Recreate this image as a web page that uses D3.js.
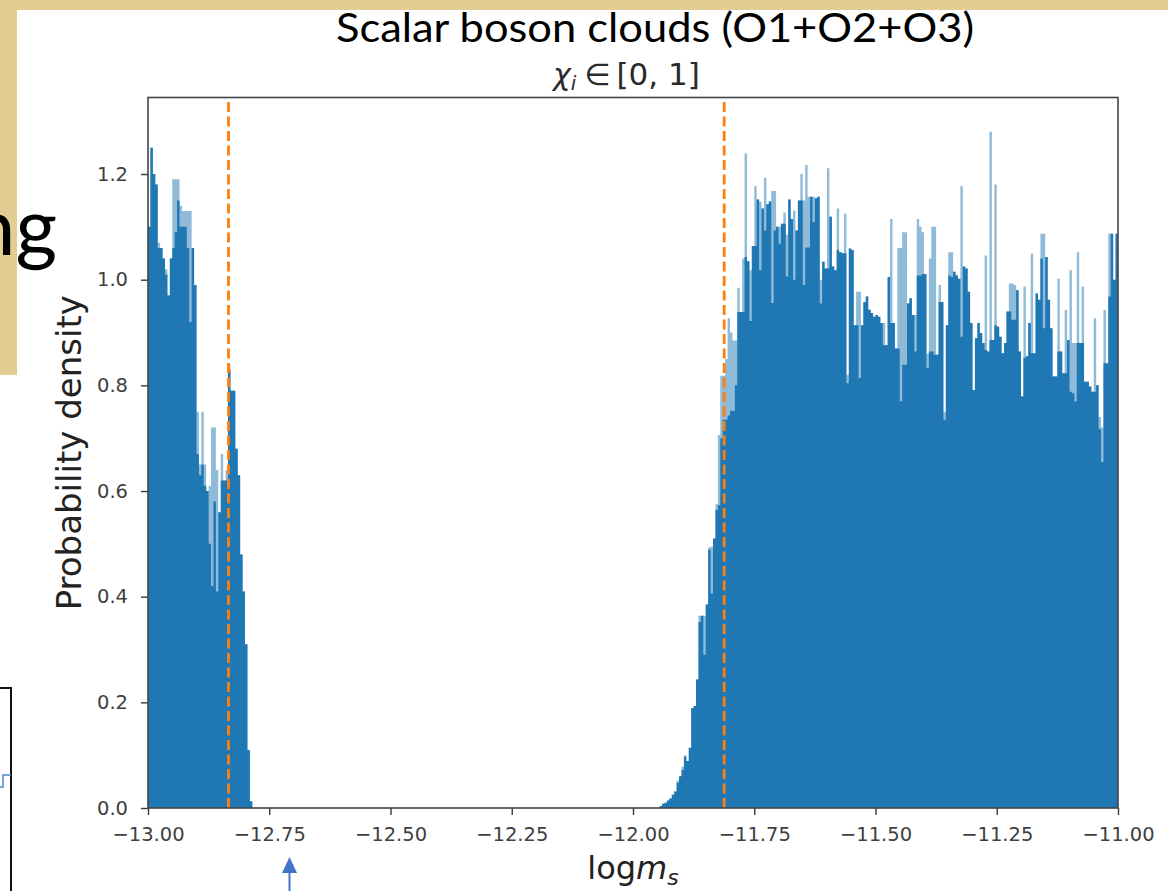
<!DOCTYPE html>
<html>
<head>
<meta charset="utf-8">
<script src="https://cdn.jsdelivr.net/npm/d3@7"></script>
<style>
  html, body { margin: 0; padding: 0; background: #fff; }
  svg { display: block; }
  .axis .tick text { font-family: "DejaVu Sans", sans-serif; font-size: 19.5px; fill: #404040; }
  .axis .tick line { stroke: #3a3a3a; stroke-width: 1.4; }
  .axis .domain { display: none; }
</style>
</head>
<body>
<svg id="chart" width="1168" height="891"></svg>
<script>
// histogram bins (width 0.005 in log m_s), dark = solid level, light = thin spike top (0 = none)
const binWidth = 0.005;

const leftStart = -13.0;
const leftDark = [
  1.10, 1.25, 1.20, 1.18, 1.06, 1.06, 1.04, 1.01, 0.97, 1.04,
  1.06, 1.09, 1.15, 1.10, 1.10, 1.10, 1.06, 0.92, 1.06, 0.99,
  0.67, 0.63, 0.65, 0.61, 0.60, 0.50, 0.42, 0.58, 0.41, 0.56,
  0.62, 0.62, 0.62, 0.83, 0.79, 0.79, 0.68, 0.63, 0.48, 0.41,
  0.31, 0.11, 0.013
];
const leftLight = [
  0, 0, 0, 0, 1.07, 0, 0, 1.02, 0, 0,
  1.19, 1.19, 1.19, 1.14, 1.13, 1.13, 1.13, 1.13, 0, 0,
  0.75, 0.65, 0.75, 0.65, 0, 0.61, 0.72, 0.72, 0.64, 0,
  0.67, 0, 0.64, 0.84, 0, 0, 0, 0, 0, 0,
  0, 0, 0
];

const rightStart = -11.945;
const rightDark = [
  0.004, 0.008, 0.01, 0.014, 0.018, 0.025, 0.031, 0.048, 0.06, 0.072,
  0.097, 0.089, 0.114, 0.189, 0.193, 0.243, 0.352, 0.364, 0.29, 0.385,
  0.489, 0.406, 0.51, 0.564, 0.573, 0.70, 0.735, 0.735, 0.743, 0.752,
  0.752, 0.80, 0.939, 0.939, 0.939, 1.043, 1.035, 0.922, 1.064, 1.064,
  1.152, 1.018, 1.135, 1.093, 1.143, 1.148, 0.956, 1.093, 1.10, 1.068,
  1.106, 1.106, 1.006, 1.152, 1.115, 1.00, 1.093, 1.15, 1.15, 0.99,
  1.061, 1.061, 1.157, 1.109, 1.154, 1.157, 0.955, 1.034, 1.021, 1.021,
  1.119, 1.025, 1.018, 1.056, 1.052, 1.05, 1.05, 0.804, 1.059, 1.056,
  0.914, 0.914, 0.814, 0.914, 0.958, 0.968, 0.943, 0.937, 0.93, 0.933,
  0.93, 0.918, 0.876, 0.876, 1.005, 0.918, 0.918, 0.87, 0.87, 0.77,
  0.839, 0.839, 0.955, 0.965, 0.933, 0.864, 1.008, 1.008, 1.011, 1.011,
  0.833, 0.864, 0.864, 0.858, 0.858, 0.958, 0.958, 0.735, 0.914, 1.008,
  1.005, 1.015, 1.008, 1.002, 0.892, 1.025, 1.021, 0.977, 0.918, 0.791,
  0.889, 0.918, 0.899, 0.88, 0.867, 0.864, 0.886, 0.886, 0.914, 0.911,
  0.892, 0.861, 0.88, 0.94, 0.94, 0.924, 0.924, 0.98, 0.864, 0.779,
  0.852, 0.855, 0.918, 0.861, 0.861, 0.974, 0.962, 1.04, 0.908, 1.043,
  0.962, 0.908, 0.817, 0.817, 0.864, 0.864, 0.823, 0.823, 0.886, 0.788,
  0.785, 0.77, 0.88, 0.88, 0.88, 0.807, 0.807, 0.798, 0.788, 0.788,
  0.80, 0.717, 0.655, 0.842, 0.842, 0.968, 1.087, 1.0, 1.087
];
const rightLight = [
  0, 0, 0, 0, 0, 0, 0, 0.052, 0, 0.078,
  0.10, 0, 0, 0, 0, 0, 0.364, 0, 0.364, 0,
  0.493, 0.495, 0, 0.575, 0.706, 0.818, 0.818, 0.85, 0.927, 0.90,
  0.885, 0.885, 0.985, 0, 1.04, 1.239, 0, 1.018, 0, 1.177,
  0, 1.148, 0, 1.193, 0, 0, 1.168, 1.168, 0, 1.10,
  0, 1.127, 1.085, 0, 0, 1.131, 0, 0, 1.20, 1.15,
  1.217, 1.157, 0, 1.157, 0, 0, 1.0, 0, 0, 1.211,
  0, 0, 0, 1.135, 0, 0, 1.125, 0.82, 0, 0,
  0, 0.977, 0.977, 0, 0, 0, 0, 0, 0, 0,
  0, 0, 0.918, 0, 0, 1.115, 0, 0, 1.06, 1.06,
  1.09, 1.09, 0, 0, 0, 0.933, 1.115, 1.10, 1.09, 0,
  0.86, 1.04, 1.10, 1.10, 0, 0.99, 0, 0.75, 0, 1.052,
  1.052, 0, 0, 0, 1.177, 0, 0, 0, 0, 0,
  0, 0, 0, 0, 1.046, 0, 1.28, 0, 1.18, 0,
  0, 0, 0, 0, 0.993, 0.993, 0.99, 0, 0, 0,
  0.987, 0, 0, 1.049, 0, 0, 0, 1.087, 1.087, 0,
  0, 0, 0, 0, 1.002, 0, 0, 0.943, 0, 1.018,
  0.88, 0.88, 1.052, 0, 0.987, 0, 0, 0, 0, 0.927,
  0, 0.74, 0.72, 0.943, 0, 1.087, 0, 0, 0
];

const markers = [-12.834, -11.812];
const xTicks = [-13, -12.75, -12.5, -12.25, -12, -11.75, -11.5, -11.25, -11];
const yTicks = [0, 0.2, 0.4, 0.6, 0.8, 1.0, 1.2];

const frame = { left: 148, right: 1118, top: 97.5, bottom: 808 };
const blue = "#1f77b4";

const svg = d3.select("#chart");

// slide background bits around the pasted plot
svg.append("rect").attr("x", 0).attr("y", 0).attr("width", 1168).attr("height", 10).attr("fill", "#e3cd92");
svg.append("rect").attr("x", 0).attr("y", 0).attr("width", 17).attr("height", 375).attr("fill", "#e3cd92");

svg.append("text")
  .attr("x", 57).attr("y", 255)
  .attr("text-anchor", "end")
  .attr("font-family", "Lato, 'Open Sans', sans-serif")
  .attr("font-size", 80)
  .attr("fill", "#000")
  .text("ng");

// neighbouring figure peeking in at bottom left
svg.append("rect").attr("x", -6).attr("y", 688).attr("width", 17).attr("height", 215)
  .attr("fill", "#fff").attr("stroke", "#111").attr("stroke-width", 2);
svg.append("path").attr("d", "M0,787 H3 V775 H11").attr("fill", "none")
  .attr("stroke", "#4a86d0").attr("stroke-width", 1.5);

// arrow under the x axis
svg.append("line").attr("x1", 289.5).attr("x2", 289.5).attr("y1", 891).attr("y2", 870)
  .attr("stroke", "#4472c4").attr("stroke-width", 2);
svg.append("path").attr("d", "M282,873 L297,873 L289.5,857 Z").attr("fill", "#4472c4");

const x = d3.scaleLinear().domain([-13, -11]).range([frame.left, frame.right]);
const y = d3.scaleLinear().domain([0, (frame.bottom - frame.top) / 528.3]).range([frame.bottom, frame.top]);

const steps = (start, vals) => {
  const pts = vals.map((v, i) => ({ x: start + i * binWidth, v }));
  pts.push({ x: start + vals.length * binWidth, v: vals[vals.length - 1] });
  return pts;
};

const area = d3.area()
  .curve(d3.curveStepAfter)
  .x(d => x(d.x))
  .y0(y(0))
  .y1(d => y(d.v));

const clusters = [
  { start: leftStart, dark: leftDark, light: leftLight },
  { start: rightStart, dark: rightDark, light: rightLight }
];

const bars = svg.append("g");
clusters.forEach(c => {
  const top = c.dark.map((d, i) => Math.max(d, c.light[i]));
  bars.append("path").datum(steps(c.start, top))
    .attr("d", area).attr("fill", blue).attr("fill-opacity", 0.5);
  bars.append("path").datum(steps(c.start, c.dark))
    .attr("d", area).attr("fill", blue);
});

// dashed markers
svg.append("g").selectAll("line")
  .data(markers)
  .join("line")
  .attr("x1", d => x(d)).attr("x2", d => x(d))
  .attr("y1", y(0)).attr("y2", frame.top)
  .attr("stroke", "#ff7f0e")
  .attr("stroke-width", 2.8)
  .attr("stroke-dasharray", "10,4.5");

// axes
svg.append("g").attr("class", "axis")
  .attr("transform", `translate(0,${frame.bottom})`)
  .call(d3.axisBottom(x).tickValues(xTicks).tickSize(7).tickPadding(12).tickFormat(d3.format(".2f")));

svg.append("g").attr("class", "axis")
  .attr("transform", `translate(${frame.left},0)`)
  .call(d3.axisLeft(y).tickValues(yTicks).tickSize(7).tickPadding(13).tickFormat(d3.format(".1f")));

svg.append("rect")
  .attr("x", frame.left).attr("y", frame.top)
  .attr("width", frame.right - frame.left).attr("height", frame.bottom - frame.top)
  .attr("fill", "none").attr("stroke", "#444").attr("stroke-width", 1.6);

// labels
svg.append("text")
  .attr("transform", `translate(81,${(frame.top + frame.bottom) / 2}) rotate(-90)`)
  .attr("text-anchor", "middle")
  .attr("font-family", "DejaVu Sans, sans-serif")
  .attr("font-size", 34)
  .attr("fill", "#222")
  .text("Probability density");

const xl = svg.append("text")
  .attr("x", (frame.left + frame.right) / 2).attr("y", 879)
  .attr("text-anchor", "middle")
  .attr("font-family", "DejaVu Sans, sans-serif")
  .attr("font-size", 32)
  .attr("fill", "#222");
xl.append("tspan").text("log");
xl.append("tspan").attr("font-style", "italic").text("m");
xl.append("tspan").attr("font-style", "italic").attr("font-size", 22).attr("dy", 6).text("s");

const sub = svg.append("text")
  .attr("x", 553).attr("y", 85)
  .attr("font-family", "DejaVu Sans, sans-serif")
  .attr("font-size", 30)
  .attr("fill", "#2a2a2a");
sub.append("tspan").attr("font-style", "italic").text("χ");
sub.append("tspan").attr("font-style", "italic").attr("font-size", 20).attr("dy", 5).text("i");
sub.append("tspan").attr("dy", -5).attr("dx", 8).text("∈");
sub.append("tspan").attr("dx", 6).attr("font-size", 31).text("[0, 1]");

svg.append("text")
  .attr("x", 655).attr("y", 42)
  .attr("text-anchor", "middle")
  .attr("font-family", "Lato, 'Open Sans', sans-serif")
  .attr("font-size", 40)
  .attr("textLength", 638)
  .attr("lengthAdjust", "spacingAndGlyphs")
  .attr("fill", "#000")
  .text("Scalar boson clouds (O1+O2+O3)");
</script>
</body>
</html>
